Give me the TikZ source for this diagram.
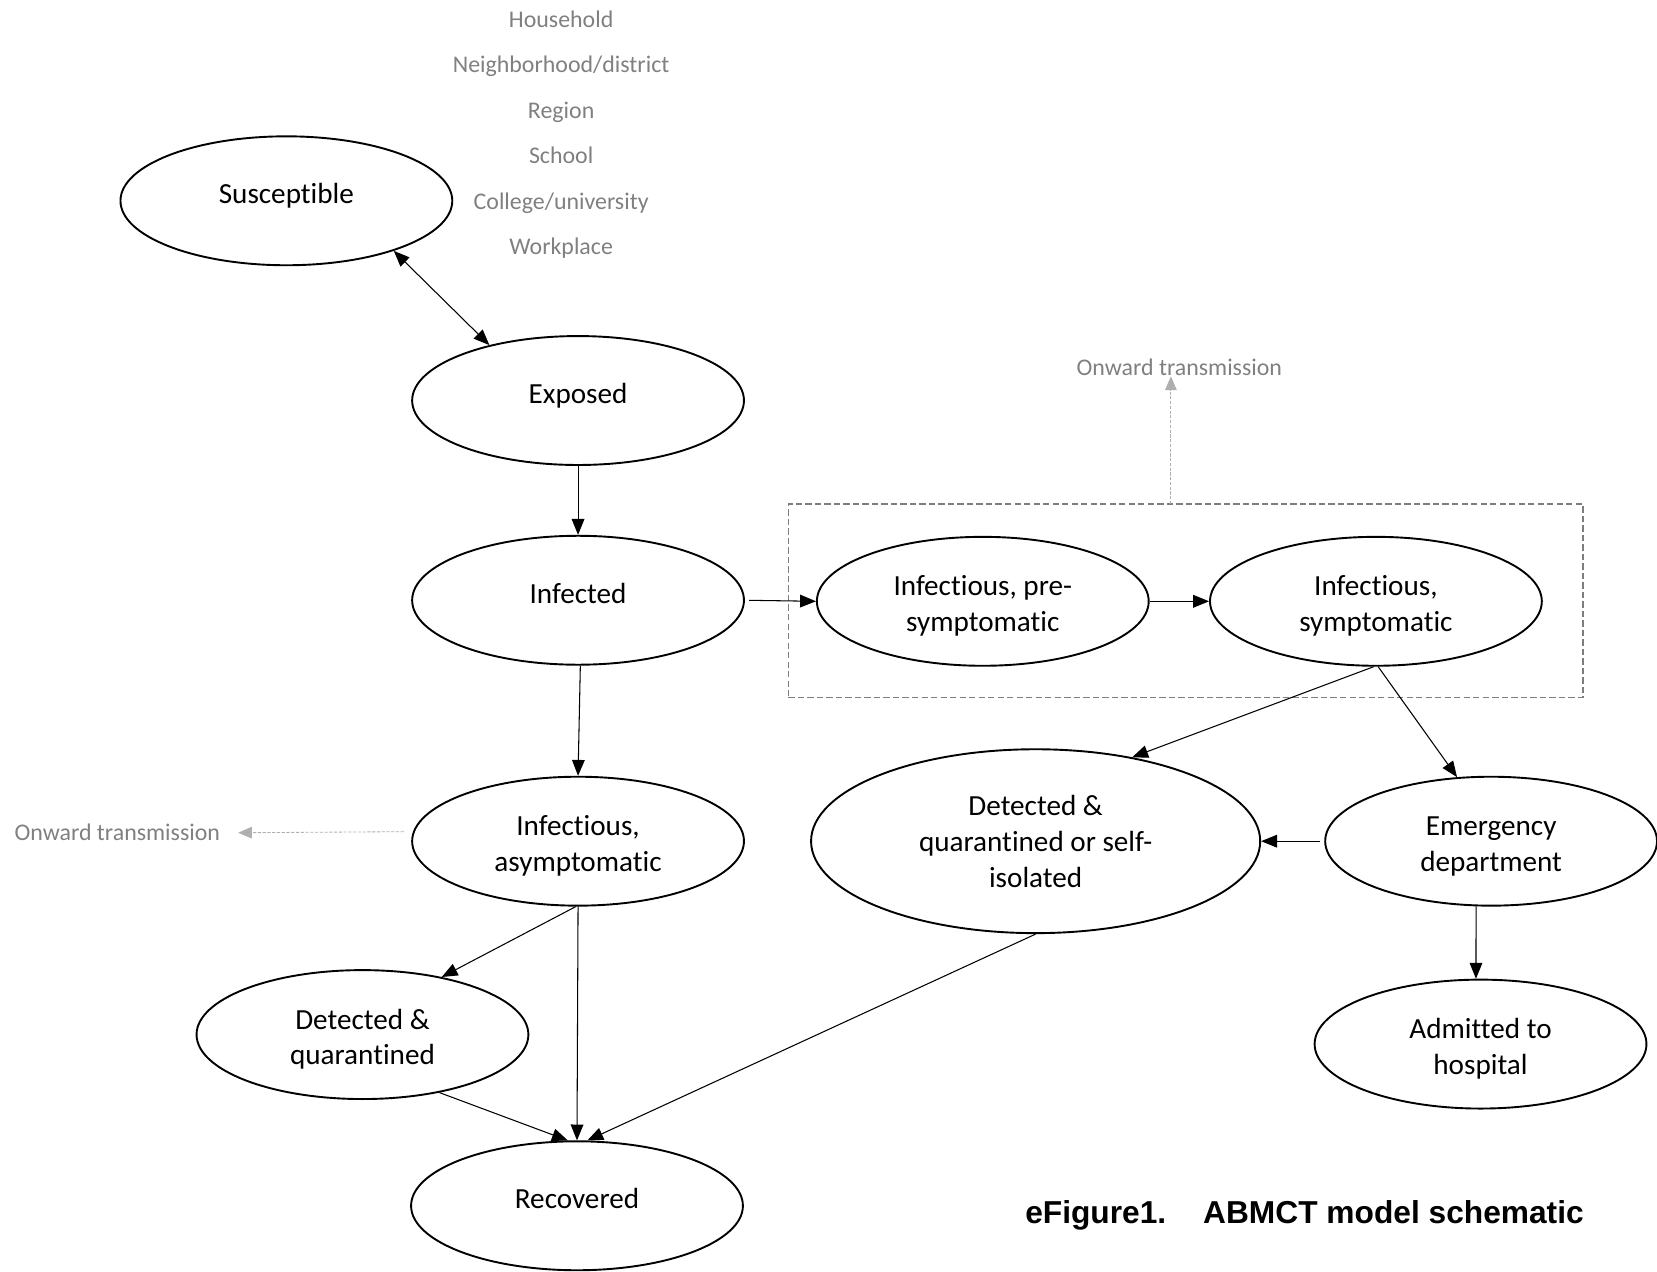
\documentclass[tikz,border=0pt]{standalone}
\usepackage{fontspec}
\setmainfont{Carlito}[RawFeature={-liga;-clig;-calt;-dlig}]
\newfontfamily\captionfont{Liberation Sans}
\usetikzlibrary{shapes.geometric,arrows.meta}
\definecolor{locgray}{RGB}{128,128,128}
\definecolor{onwgray}{RGB}{175,175,175}
\definecolor{boxgray}{RGB}{125,125,125}
\tikzset{
  state/.style={ellipse, draw, line width=1.8pt, minimum width=314pt, minimum height=122pt,
    inner sep=0pt, align=center, font=\fontsize{27.6}{34}\selectfont},
  oneline/.style={text height=20pt, text depth=14pt},
  twoline/.style={text height=62pt},
  arr/.style={line width=1pt, -{Triangle[length=15pt,width=12pt]}},
  dblarr/.style={line width=1pt, {Triangle[length=15pt,width=12pt]}-{Triangle[length=15pt,width=12pt]}},
  loc/.style={text=locgray, inner sep=0pt, font=\fontsize{22.6}{27}\selectfont},
  onw/.style={draw=onwgray, line width=0.8pt, dash pattern=on 3pt off 1.5pt,
    -{Triangle[length=13pt,width=11pt]}},
}
\begin{document}
\begin{tikzpicture}[x=1pt,y=-1pt]
\useasboundingbox (0,0) rectangle (1568,1203);

\node[loc, anchor=base] (hh) at (531,26) {Household};
\node[loc, anchor=base] (nbh) at (531,69) {Neighborhood/district};
\node[loc, anchor=base] (reg) at (531,112) {Region};
\node[loc, anchor=base] (sch) at (531,155) {School};
\node[loc, anchor=base] (uni) at (531,198) {College/university};
\node[loc, anchor=base] (work) at (531,241) {Workplace};

\node[draw=boxgray, line width=1.2pt, dash pattern=on 6pt off 3pt, minimum width=752pt,
  minimum height=183pt, inner sep=0pt] (grp) at (1122,568.5) {};

\node[state, oneline] (sus) at (271,190) {Susceptible};
\node[state, oneline] (expo) at (547,379) {Exposed};
\node[state, oneline] (inf) at (547,568) {Infected};
\node[state, twoline] (asym) at (547,796) {Infectious,\\asymptomatic};
\node[state, twoline] (dq) at (343,979) {Detected \&\\quarantined};
\node[state, oneline] (rec) at (546,1141) {Recovered};
\node[state, twoline] (pre) at (930,569) {Infectious, pre-\\symptomatic};
\node[state, twoline] (sym) at (1302,569) {Infectious,\\symptomatic};
\node[state, minimum width=425pt, minimum height=174pt] (dqs) at (980,796) {Detected \&\\quarantined or self-\\isolated};
\node[state, twoline] (ed) at (1411,796) {Emergency\\department};
\node[state, twoline] (adm) at (1401,988) {Admitted to\\hospital};

\node[loc] (onwtop) at (1116,348) {Onward transmission};
\node[loc] (onwleft) at (111,788) {Onward transmission};
\coordinate (grptop) at (1108,477);

\draw[dblarr] (sus.-25) -- (expo.148);
\draw[arr] (expo.south) -- (inf.north);
\draw[arr, shorten <=4pt] (inf.east) -- (pre.west);
\draw[arr] (pre.east) -- (sym.west);
\draw[arr] (inf.-88) -- (asym.north);
\draw[arr] (asym.-92) -- (dq.36);
\draw[arr] (asym.south) -- (rec.north);
\draw[arr] (dq.-37) -- (rec.98);
\draw[arr] (dqs.south) -- (rec.81);
\draw[arr] (sym.-92) -- (dqs.41);
\draw[arr] (sym.-88) -- (ed.118);
\draw[arr, shorten <=4pt] (ed.west) -- (dqs.east);
\draw[arr] (ed.-103) -- (adm.94);

\draw[onw] (grptop) -- (grptop |- onwtop.south);
\draw[onw] ([xshift=-7pt,yshift=9pt]asym.west) -- ([xshift=17pt]onwleft.east);

\node[anchor=west, inner sep=0pt, font=\captionfont\fontsize{30}{36}\selectfont\bfseries] (cap)
  at (970,1150) {eFigure1.\hspace{35pt}ABMCT model schematic};
\end{tikzpicture}
\end{document}
